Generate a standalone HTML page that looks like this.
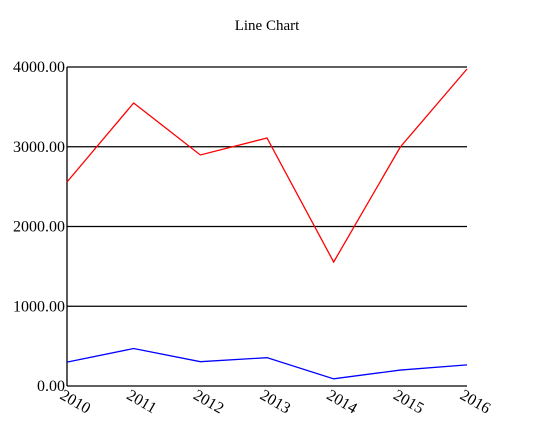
<!DOCTYPE html>
<html><head><meta charset="utf-8"><style>
body{margin:0;background:#fff}
svg{display:block;font-family:"Liberation Serif",serif}
</style></head><body>
<svg id="chart" width="546" height="440">
<text x="267" y="30" font-size="15" text-anchor="middle">Line Chart</text>
<g id="grid"></g><g id="axes"></g><g id="series"></g>
</svg>
<script>
const categories=["2010","2011","2012","2013","2014","2015","2016"];
const seriesRed=[2558,3549,2897,3110,1555,2997,3975];
const seriesBlue=[300,470,305,355,90,200,265];
const yTicks=[0,1000,2000,3000,4000];
const yTickLabels=["0.00","1000.00","2000.00","3000.00","4000.00"];
const NS="http://www.w3.org/2000/svg";
const x0=67,x1=467,y0=386,y1=67,yMax=4000;
const xs=i=>x0+(x1-x0)*i/(categories.length-1);
const ys=v=>y0-(y0-y1)*v/yMax;
function mk(t,a,p){const e=document.createElementNS(NS,t);for(const k in a)e.setAttribute(k,a[k]);p.appendChild(e);return e;}
const grid=document.getElementById('grid'),axes=document.getElementById('axes'),ser=document.getElementById('series');
yTicks.forEach((v,i)=>{
 if(v>0){const l=mk('line',{x1:x0,x2:x1,y1:ys(v),y2:ys(v),stroke:'#000','stroke-width':1.3},grid);
 
 }
 const t=mk('text',{x:x0-2,y:ys(v)+5,'font-size':16,'text-anchor':'end'},axes);t.textContent=yTickLabels[i];
 
 
});
const ya=mk('line',{x1:x0,x2:x0,y1:y1,y2:y0,stroke:'#000','stroke-width':1.3},axes);


const xa=mk('line',{x1:x0,x2:x1,y1:y0,y2:y0,stroke:'#000','stroke-width':1.3},axes);


categories.forEach((c,i)=>{
 const x=xs(i)-8,y=y0+12;
 const t=mk('text',{x:x,y:y,'font-size':16,transform:`rotate(30 ${x} ${y})`},axes);t.textContent=c;
 
 
});
function line(data,color,name){
 const p=mk('polyline',{points:data.map((v,i)=>xs(i)+','+ys(v)).join(' '),fill:'none',stroke:color,'stroke-width':1.3},ser);
 
 
}
line(seriesRed,'#f00','series-red-line');
line(seriesBlue,'#00f','series-blue-line');
</script>
</body></html>
